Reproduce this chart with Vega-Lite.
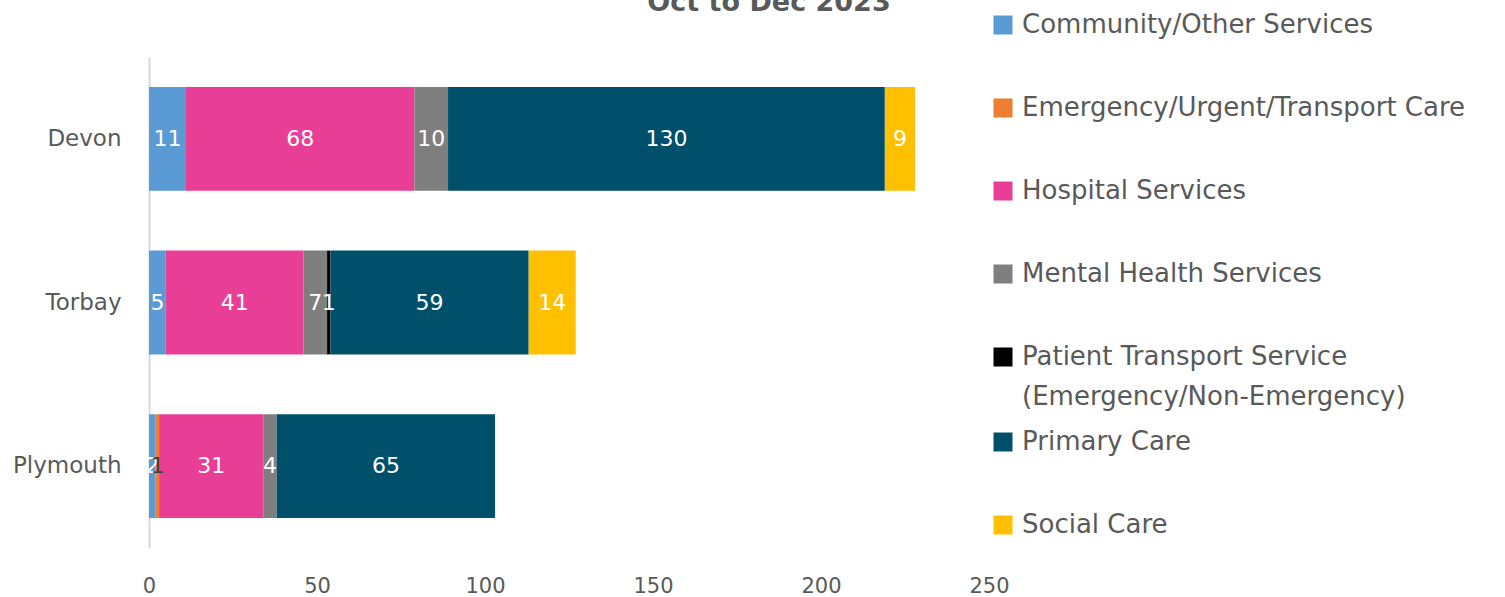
{
  "$schema": "https://vega.github.io/schema/vega-lite/v6.json",
  "width": 840,
  "height": 491,
  "autosize": {"type": "none"},
  "padding": {"left": 149, "top": 57, "right": 516, "bottom": 49},
  "background": "white",
  "title": {"text": "Oct to Dec 2023", "fontSize": 27, "fontWeight": "bold", "color": "#595959", "font": "DejaVu Sans", "anchor": "middle", "dx": 200, "offset": -26, "baseline": "alphabetic"},
  "config": {"view": {"stroke": null}, "font": "DejaVu Sans"},
  "data": {
    "values": [
      {"region": "Devon", "category": "Community/Other Services", "value": 11},
      {"region": "Devon", "category": "Hospital Services", "value": 68},
      {"region": "Devon", "category": "Mental Health Services", "value": 10},
      {"region": "Devon", "category": "Primary Care", "value": 130},
      {"region": "Devon", "category": "Social Care", "value": 9},
      {"region": "Torbay", "category": "Community/Other Services", "value": 5},
      {"region": "Torbay", "category": "Hospital Services", "value": 41},
      {"region": "Torbay", "category": "Mental Health Services", "value": 7},
      {"region": "Torbay", "category": "Patient Transport Service (Emergency/Non-Emergency)", "value": 1},
      {"region": "Torbay", "category": "Primary Care", "value": 59},
      {"region": "Torbay", "category": "Social Care", "value": 14},
      {"region": "Plymouth", "category": "Community/Other Services", "value": 2},
      {"region": "Plymouth", "category": "Emergency/Urgent/Transport Care", "value": 1},
      {"region": "Plymouth", "category": "Hospital Services", "value": 31},
      {"region": "Plymouth", "category": "Mental Health Services", "value": 4},
      {"region": "Plymouth", "category": "Primary Care", "value": 65}
    ]
  },
  "encoding": {
    "y": {
      "field": "region", "type": "nominal", "sort": ["Devon", "Torbay", "Plymouth"],
      "scale": {"paddingInner": 0.366, "paddingOuter": 0.183},
      "axis": {"title": null, "domain": true, "domainColor": "#D9D9D9", "domainWidth": 2, "ticks": false, "labelPadding": 28, "labelFontSize": 23, "labelColor": "#595959", "labelFont": "DejaVu Sans"}
    }
  },
  "layer": [
    {
      "mark": {"type": "bar", "strokeWidth": 0},
      "encoding": {
        "x": {"field": "value", "type": "quantitative", "stack": "zero", "scale": {"domain": [0, 250], "nice": false},
          "axis": {"title": null, "domain": false, "ticks": false, "grid": false, "values": [0, 50, 100, 150, 200, 250], "labelFlush": false, "labelPadding": 27, "labelFontSize": 21, "labelColor": "#595959", "labelFont": "DejaVu Sans"}},
        "fill": {
          "field": "category", "type": "nominal",
          "scale": {
            "domain": ["Community/Other Services", "Emergency/Urgent/Transport Care", "Hospital Services", "Mental Health Services", "Patient Transport Service (Emergency/Non-Emergency)", "Primary Care", "Social Care"],
            "range": ["#5B9BD5", "#ED7D31", "#E83E96", "#7F7F7F", "#000000", "#00506B", "#FFC000"]
          },
          "legend": {
            "orient": "none", "legendX": 841, "legendY": -45, "title": null,
            "values": ["Community/Other Services", "Emergency/Urgent/Transport Care", "Hospital Services", "Mental Health Services", "Patient Transport Service (Emergency/Non-Emergency)"],
            "symbolType": "square", "symbolSize": 361, "symbolStrokeWidth": 0, "symbolOpacity": 1,
            "labelFontSize": 26, "labelColor": "#595959", "labelFont": "DejaVu Sans", "labelOffset": 6, "labelLimit": 600,
            "rowPadding": 57, "clipHeight": 26,
            "labelExpr": "datum.label == 'Patient Transport Service (Emergency/Non-Emergency)' ? ['Patient Transport Service', '(Emergency/Non-Emergency)'] : datum.label",
            "encode": {"labels": {"update": {"lineHeight": {"value": 40}}}}
          }
        },
        "stroke": {
          "field": "category", "type": "nominal",
          "scale": {
            "domain": ["Primary Care", "Social Care"],
            "range": ["#00506B", "#FFC000"]
          },
          "legend": {
            "orient": "none", "legendX": 841, "legendY": 372, "title": null,
            "values": ["Primary Care", "Social Care"],
            "symbolType": "square", "symbolSize": 90, "symbolStrokeWidth": 9.5, "symbolOpacity": 1,
            "labelFontSize": 26, "labelColor": "#595959", "labelFont": "DejaVu Sans", "labelOffset": 6, "labelLimit": 600,
            "rowPadding": 57, "clipHeight": 26
          }
        }
      }
    },
    {
      "transform": [
        {"stack": "value", "groupby": ["region"], "sort": [{"field": "category"}], "as": ["x0", "x1"]},
        {"calculate": "(datum.x0 + datum.x1) / 2", "as": "mid"}
      ],
      "mark": {"type": "text", "fontSize": 22, "font": "DejaVu Sans"},
      "encoding": {
        "x": {"field": "mid", "type": "quantitative"},
        "text": {"field": "value", "type": "quantitative"},
        "color": {"condition": {"test": "datum.category === 'Emergency/Urgent/Transport Care'", "value": "#404040"}, "value": "white"}
      }
    }
  ]
}
